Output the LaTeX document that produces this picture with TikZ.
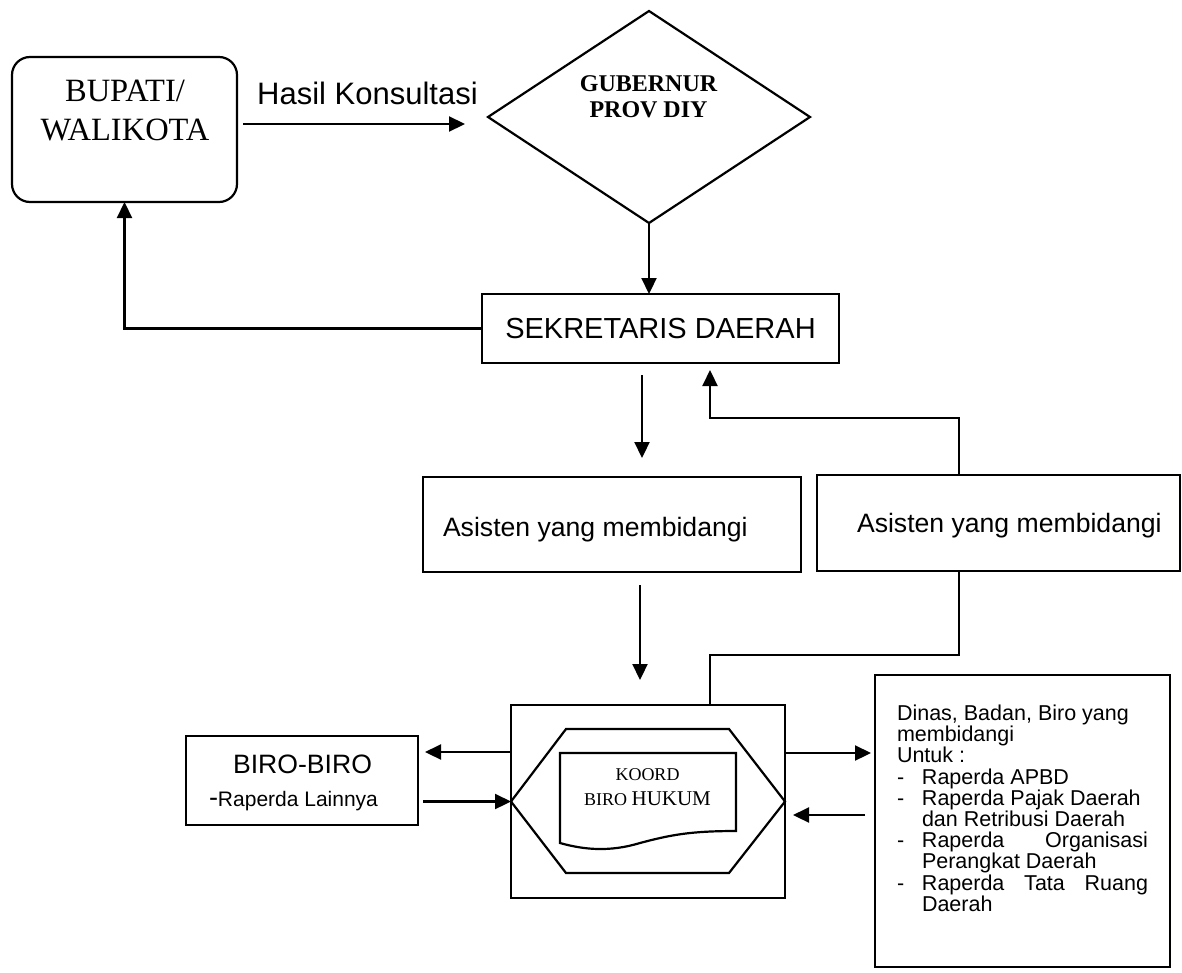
\documentclass[tikz,border=0pt]{standalone}
\usepackage{fontspec}
\setmainfont{Liberation Serif}
\setsansfont{Liberation Sans}
\usetikzlibrary{arrows.meta,shapes.geometric,calc}

\begin{document}
\begin{tikzpicture}[x=1pt,y=-1pt,
  box/.style={draw, line width=2.2pt, inner sep=0pt, outer sep=0pt},
  ln/.style={line width=2.2pt},
  arr/.style={line width=2.2pt, -{Triangle[length=16pt,width=15pt]}},
  txt/.style={inner sep=0pt, outer sep=0pt},
  sans/.style={font=\sffamily\fontsize{#1}{#1}\selectfont},
]
\useasboundingbox (0,0) rectangle (1182,972);

% top row: Bupati/Walikota and the Governor
\node[box, rounded corners=18pt, minimum width=225pt, minimum height=145pt] (bup) at (124.5,129.5) {};
\node[txt, anchor=south, align=center, font=\fontsize{32.5}{39}\selectfont] (bupT) at (125,141) {BUPATI/\\WALIKOTA};

\node[box, diamond, minimum width=322pt, minimum height=212pt] (gub) at (649,117) {};
\node[txt, anchor=south, align=center, font=\bfseries\fontsize{24}{26}\selectfont] (gubT) at (648.5,118) {GUBERNUR\\PROV DIY};

% regional secretary
\node[box, minimum width=357pt, minimum height=69pt, sans=29] (sek) at (660.5,328.5) {SEKRETARIS DAERAH};

% assistants
\node[box, minimum width=378pt, minimum height=95pt] (asL) at (612,524.5) {};
\node[txt, anchor=base west, sans=26.6] (asLT) at (443,536) {Asisten yang membidangi};

\node[box, minimum width=363pt, minimum height=96pt] (asR) at (998.5,523) {};
\node[txt, anchor=base west, sans=26.6] (asRT) at (857,532) {Asisten yang membidangi};

% legal bureau coordination
\node[box, minimum width=274pt, minimum height=193pt] (koord) at (648,801.5) {};
\draw[ln, line join=miter] (koord.west) -- (566,729) -- (729,729) -- (koord.east) -- (729,873) -- (566,873) -- cycle;
\draw[ln] (560,753) -- (736,753) -- (736,831)
  .. controls (690,831) and (670,835) .. (640,843)
  .. controls (610,852) and (585,850) .. (560,843) -- cycle;
\node[txt, anchor=south, align=center, font=\fontsize{18}{25}\selectfont] (koordT) at (647.5,806)
  {KOORD\\BIRO {\fontsize{21}{25}\selectfont HUKUM}};

% other bureaus
\node[box, minimum width=232pt, minimum height=89pt] (biro) at (302,780.5) {};
\node[txt, anchor=base, sans=26.6] (biroT) at (302.5,773) {BIRO-BIRO};
\node[txt, anchor=base west, sans=21] (biroL) at (209,806) {{\fontsize{27}{30}\selectfont -}Raperda Lainnya};

% offices in charge
\node[box, minimum width=295pt, minimum height=292pt] (dinas) at (1022.5,821) {};
\node[txt, anchor=north west, align=left, font=\sffamily\fontsize{21.5}{21.2}\selectfont] (dinasT) at (897,705) {%
Dinas, Badan, Biro yang\\
membidangi\\
Untuk :\\
\makebox[25pt][l]{-}Raperda APBD\\
\makebox[25pt][l]{-}Raperda Pajak Daerah\\
\hspace*{25pt}dan Retribusi Daerah\\
\makebox[25pt][l]{-}\makebox[226pt][s]{Raperda Organisasi}\\
\hspace*{25pt}Perangkat Daerah\\
\makebox[25pt][l]{-}\makebox[226pt][s]{Raperda Tata Ruang}\\
\hspace*{25pt}Daerah};

% connectors
\coordinate (hk) at (0,124);
\draw[arr] ([xshift=6pt]bup.east |- hk) -- ([xshift=-23pt]gub.west |- hk);
\node[txt, anchor=base, sans=31] (hkT) at (367.5,104) {Hasil Konsultasi};

\draw[arr] (gub.south) -- (gub.south |- sek.north);
\draw[arr] (sek.west) -| (bup.south);

\coordinate (d1) at (642,375);
\coordinate (d2) at (642,458);
\draw[arr] (d1) -- (d2);

\coordinate (u1) at (959,418);
\coordinate (u2) at (710,418);
\draw[arr] (u1 |- asR.north) -- (u1) -- (u2) -- ([yshift=-7pt]u2 |- sek.south);

\coordinate (d3) at (640,585);
\coordinate (d4) at (640,680);
\draw[arr] (d3) -- (d4);

\coordinate (w1) at (959,655);
\coordinate (w2) at (710,655);
\draw[ln] (w1 |- asR.south) -- (w1) -- (w2) -- (w2 |- koord.north);

\coordinate (la) at (0,752);
\draw[arr] (koord.west |- la) -- ([xshift=7pt]biro.east |- la);
\draw[arr] ([xshift=5pt]biro.east |- koord.west) -- (koord.west);

\coordinate (ra) at (0,753);
\draw[arr] (koord.east |- ra) -- ([xshift=-4pt]dinas.west |- ra);
\coordinate (rb) at (0,815);
\draw[arr] ([xshift=-10pt]dinas.west |- rb) -- ([xshift=8pt]koord.east |- rb);
\end{tikzpicture}
\end{document}
